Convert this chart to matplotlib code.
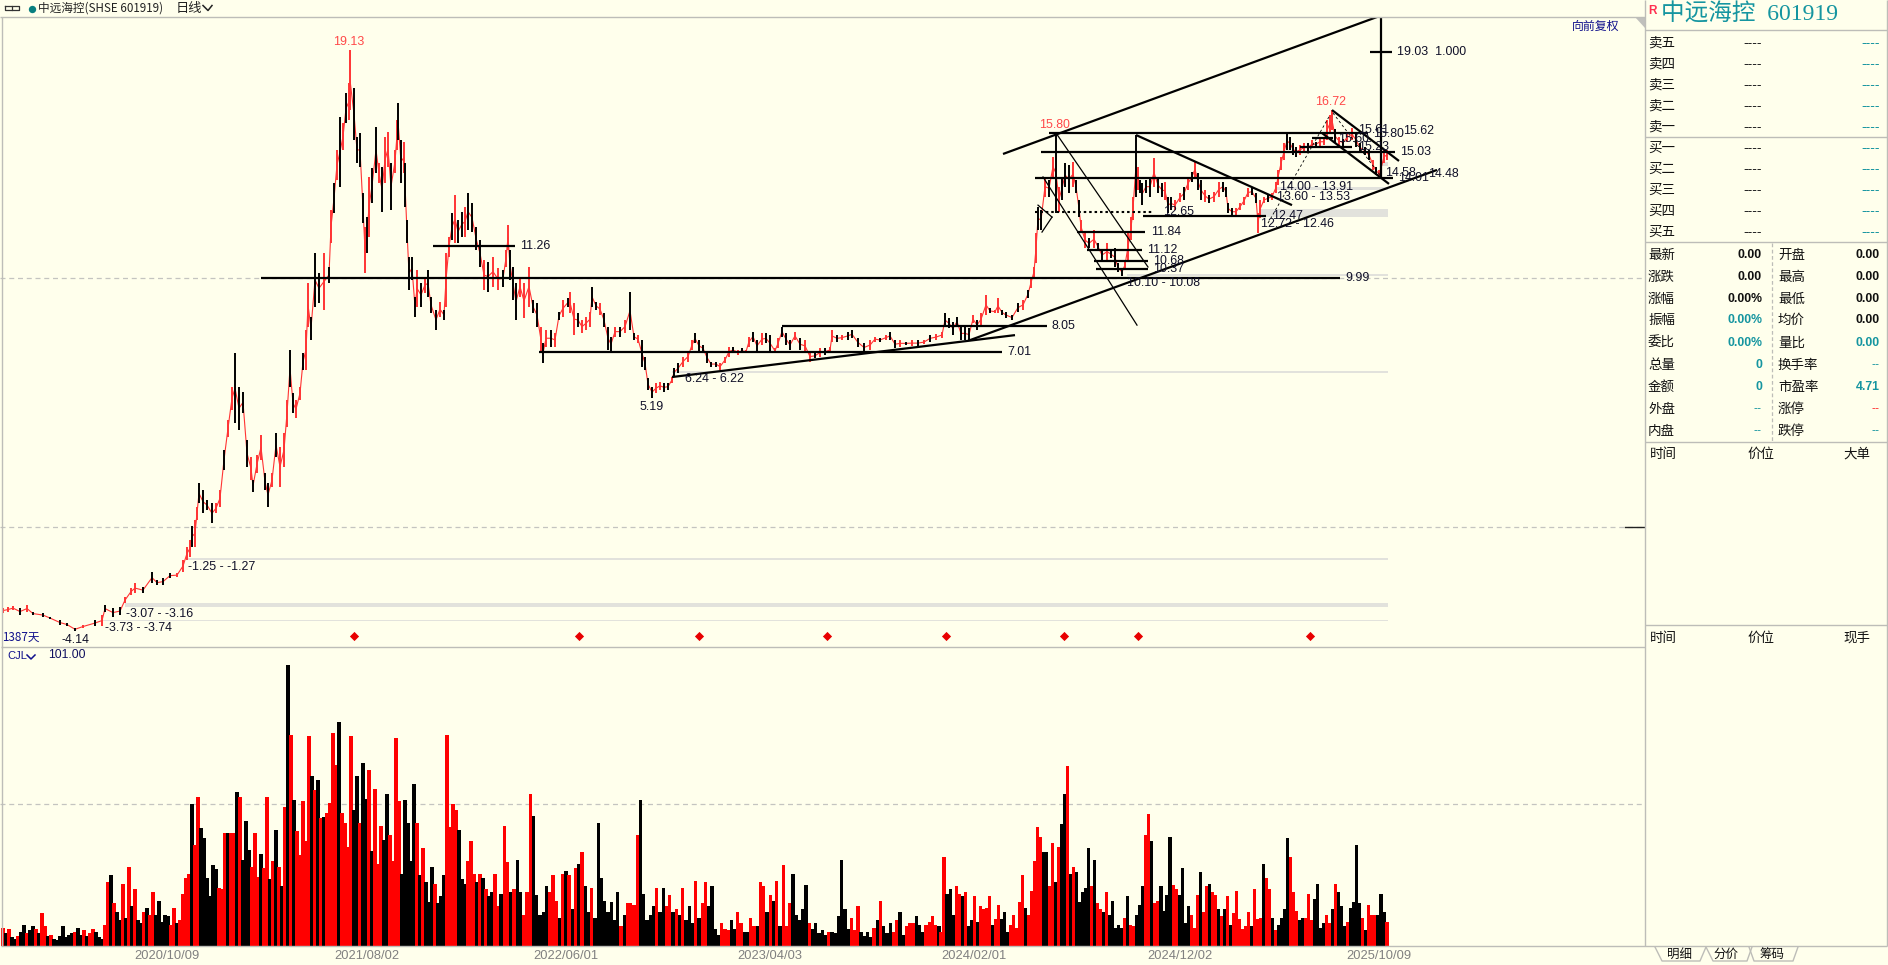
import numpy as np
import matplotlib
matplotlib.use('Agg')
import matplotlib.pyplot as plt

BG = '#FFFFEC'
GRID = '#C4C4C0'
RED = '#FF3434'
TEAL = '#1595A0'
NAVY = '#10108C'
CJK = ['Noto Sans CJK SC', 'DejaVu Sans']
NUM = ['Liberation Sans', 'Noto Sans CJK SC']

# daily bars, sampled along the date axis
price_day = [
    3, 8, 13, 20, 27, 33, 43, 50, 60, 67,
    75, 83, 95, 102, 105, 113, 120, 125, 131, 135,
    143, 152, 157, 163, 170, 177, 183, 187, 190, 192,
    195, 197, 199, 203, 207, 212, 216, 220, 224, 228,
    232, 235, 239, 243, 247, 251, 253, 257, 261, 265,
    268, 272, 276, 280, 284, 287, 290, 293, 296, 300,
    303, 306, 308, 311, 315, 319, 324, 329, 331, 334,
    337, 340, 343, 346, 349, 350, 354, 357, 360, 363,
    365, 367, 369, 372, 376, 379, 382, 385, 388, 391,
    395, 397, 398, 401, 404, 405, 407, 409, 412, 415,
    417, 421, 425, 428, 431, 436, 440, 444, 446, 449,
    452, 455, 458, 462, 465, 468, 472, 476, 480, 484,
    488, 493, 498, 503, 506, 508, 510, 513, 516, 520,
    524, 529, 533, 537, 541, 543, 546, 551, 555, 559,
    563, 568, 570, 574, 578, 582, 586, 590, 592, 596,
    600, 604, 608, 611, 615, 620, 625, 630, 634, 638,
    642, 645, 648, 652, 656, 660, 664, 668, 672, 674,
    678, 683, 688, 692, 695, 699, 703, 707, 711, 716,
    720, 725, 729, 733, 738, 742, 746, 749, 753, 757,
    762, 766, 770, 775, 778, 782, 786, 790, 795, 800,
    805, 810, 815, 820, 825, 830, 832, 837, 842, 848,
    852, 858, 864, 870, 875, 880, 886, 890, 895, 900,
    906, 912, 918, 924, 930, 936, 942, 945, 949, 953,
    957, 961, 965, 969, 973, 977, 981, 986, 990, 995,
    998, 1002, 1006, 1012, 1018, 1023, 1028, 1031, 1034, 1036,
    1038, 1041, 1045, 1049, 1053, 1056, 1059, 1062, 1065, 1069,
    1073, 1076, 1079, 1081, 1085, 1089, 1094, 1098, 1102, 1107,
    1111, 1115, 1118, 1122, 1125, 1128, 1131, 1133, 1136, 1138,
    1140, 1142, 1146, 1150, 1154, 1158, 1162, 1165, 1168, 1171,
    1175, 1180, 1184, 1188, 1192, 1195, 1198, 1201, 1205, 1209,
    1214, 1219, 1223, 1226, 1228, 1232, 1236, 1240, 1244, 1248,
    1252, 1256, 1258, 1260, 1264, 1268, 1272, 1276, 1278, 1281,
    1284, 1287, 1290, 1293, 1296, 1300, 1304, 1308, 1312, 1316,
    1320, 1324, 1327, 1330, 1332, 1335, 1339, 1343, 1347, 1352,
    1356, 1360, 1365, 1369, 1373, 1376, 1379, 1381, 1384, 1387,
]
price_high = [
    -3.24, -3.20, -3.16, -3.24, -3.12, -3.40, -3.44, -3.60, -3.72, -3.84,
    -4.04, -3.92, -3.72, -3.52, -3.12, -3.24, -3.20, -2.80, -2.44, -2.24,
    -2.40, -1.80, -2.12, -2.04, -1.84, -1.84, -1.31, -0.79, -0.51, 0.03,
    0.29, 0.83, 1.76, 1.49, 1.09, 0.96, 0.96, 1.49, 3.10, 4.30,
    5.64, 6.97, 5.64, 5.44, 3.50, 2.83, 1.89, 2.90, 3.70, 2.16,
    1.76, 2.16, 3.77, 3.23, 3.77, 5.10, 7.10, 5.37, 5.10, 5.64,
    6.97, 7.91, 9.78, 8.44, 10.98, 10.18, 10.98, 10.45, 12.72, 13.78,
    15.12, 16.45, 16.19, 17.39, 17.79, 19.13, 17.59, 15.66, 15.79, 13.38,
    12.05, 12.45, 14.05, 14.39, 16.06, 14.59, 14.45, 15.66, 15.86, 14.59,
    15.12, 16.32, 16.99, 15.52, 15.45, 14.59, 12.32, 10.85, 10.85, 9.24,
    10.31, 9.78, 10.04, 10.31, 9.24, 8.71, 9.04, 8.71, 10.98, 11.65,
    12.58, 13.32, 12.32, 12.65, 12.85, 13.38, 12.98, 12.05, 11.51, 10.71,
    10.65, 10.85, 10.38, 10.31, 11.11, 12.12, 11.11, 10.45, 9.78, 10.04,
    9.78, 10.45, 9.11, 8.98, 8.04, 7.37, 7.91, 7.91, 7.77, 8.64,
    9.11, 9.18, 9.44, 8.98, 8.57, 8.31, 8.44, 8.64, 9.64, 9.04,
    8.98, 8.57, 8.04, 7.64, 8.04, 8.04, 8.31, 9.44, 7.77, 7.71,
    7.50, 6.84, 5.97, 5.64, 5.77, 5.84, 5.77, 5.77, 6.04, 6.37,
    6.57, 6.84, 7.04, 7.50, 7.77, 7.50, 7.31, 7.04, 6.64, 6.64,
    6.57, 6.84, 7.24, 7.24, 7.11, 7.17, 7.11, 7.64, 7.84, 7.50,
    7.77, 7.77, 7.71, 7.17, 7.57, 8.04, 7.77, 7.50, 7.84, 7.57,
    7.50, 7.04, 6.97, 7.17, 7.17, 7.24, 7.90, 7.70, 7.70, 7.84,
    7.90, 7.57, 7.37, 7.50, 7.64, 7.57, 7.70, 7.84, 7.50, 7.50,
    7.44, 7.50, 7.50, 7.50, 7.70, 7.74, 7.84, 8.57, 8.37, 8.24,
    8.44, 8.04, 8.04, 7.97, 8.51, 8.31, 8.57, 9.31, 8.77, 8.71,
    9.17, 8.71, 8.64, 8.51, 8.97, 9.11, 9.51, 10.04, 10.44, 11.78,
    12.85, 12.71, 14.05, 13.92, 14.85, 15.80, 13.65, 14.05, 14.58, 14.52,
    14.65, 13.92, 13.11, 12.31, 11.85, 11.58, 11.91, 11.38, 11.11, 11.38,
    11.11, 11.18, 10.58, 10.38, 10.71, 11.78, 12.45, 13.25, 15.72, 14.45,
    13.92, 13.78, 13.92, 14.05, 14.78, 14.05, 13.78, 13.85, 13.25, 13.25,
    13.11, 13.38, 13.65, 14.05, 14.25, 14.65, 14.18, 13.92, 13.52, 13.32,
    13.45, 13.85, 13.85, 13.65, 12.98, 12.78, 12.78, 12.98, 13.25, 13.58,
    13.58, 13.38, 12.58, 13.11, 13.25, 13.32, 13.38, 13.85, 14.32, 14.85,
    15.39, 15.85, 15.65, 15.39, 15.25, 15.32, 15.39, 15.39, 15.52, 15.45,
    15.65, 15.58, 16.32, 16.52, 16.72, 15.98, 15.65, 15.58, 15.79, 15.99,
    15.79, 15.39, 15.25, 15.12, 14.72, 14.45, 14.32, 14.72, 15.12, 15.12,
]
price_low = [
    -3.44, -3.40, -3.32, -3.52, -3.40, -3.52, -3.60, -3.68, -3.92, -3.96,
    -4.14, -4.04, -3.96, -3.96, -3.40, -3.60, -3.52, -3.04, -2.72, -2.64,
    -2.64, -2.24, -2.32, -2.32, -2.04, -2.00, -1.80, -1.31, -1.18, -0.78,
    -0.78, 0.29, 0.96, 0.56, 0.69, 0.16, 0.56, 0.83, 2.30, 3.63,
    4.70, 4.16, 3.90, 4.57, 2.43, 1.89, 1.43, 2.16, 2.70, 1.49,
    0.83, 1.62, 2.83, 1.62, 2.43, 4.03, 5.64, 4.57, 4.37, 5.10,
    6.30, 6.30, 8.04, 7.51, 8.84, 8.98, 8.71, 9.78, 11.38, 12.58,
    13.92, 13.65, 15.12, 16.19, 16.32, 16.72, 15.52, 14.59, 14.45, 12.18,
    10.18, 10.98, 11.65, 12.98, 14.19, 13.79, 12.65, 13.79, 14.45, 12.72,
    14.19, 15.12, 15.52, 13.79, 14.19, 12.85, 11.38, 9.51, 9.91, 8.44,
    8.84, 8.84, 9.38, 9.24, 8.58, 7.91, 8.44, 8.31, 8.84, 10.85,
    11.51, 11.38, 11.38, 11.65, 11.65, 11.92, 11.85, 11.11, 10.45, 9.51,
    9.44, 9.64, 9.51, 9.64, 10.45, 11.11, 9.91, 9.11, 8.31, 9.24,
    8.37, 8.84, 8.57, 8.04, 6.97, 6.57, 7.24, 7.24, 7.24, 8.31,
    8.44, 8.84, 8.57, 7.71, 8.04, 7.77, 7.91, 8.04, 8.84, 8.71,
    8.51, 8.04, 7.11, 7.04, 7.64, 7.64, 7.77, 7.91, 7.50, 7.37,
    6.44, 6.30, 5.50, 5.19, 5.37, 5.50, 5.44, 5.50, 5.77, 6.04,
    6.17, 6.44, 6.64, 7.11, 7.37, 7.04, 7.04, 6.57, 6.44, 6.44,
    6.30, 6.57, 6.84, 6.97, 6.91, 6.97, 6.97, 7.24, 7.44, 7.04,
    7.31, 7.37, 7.04, 6.97, 7.17, 7.64, 7.31, 7.11, 7.50, 7.10,
    7.04, 6.64, 6.77, 6.84, 6.90, 6.97, 7.44, 7.44, 7.50, 7.50,
    7.57, 7.24, 7.04, 7.10, 7.44, 7.44, 7.50, 7.50, 7.17, 7.24,
    7.30, 7.26, 7.26, 7.34, 7.44, 7.50, 7.57, 8.04, 7.97, 7.70,
    8.04, 7.50, 7.50, 7.47, 8.17, 7.90, 8.10, 8.51, 8.57, 8.57,
    8.57, 8.51, 8.37, 8.30, 8.64, 8.71, 9.17, 9.57, 10.04, 10.58,
    11.91, 11.91, 13.25, 13.25, 14.05, 12.58, 12.65, 13.11, 13.65, 13.38,
    13.65, 13.38, 12.45, 11.78, 11.18, 11.18, 11.18, 11.11, 10.71, 10.71,
    10.78, 10.44, 10.24, 10.08, 10.31, 10.71, 11.51, 12.31, 13.25, 13.52,
    13.38, 12.91, 13.38, 13.25, 13.65, 13.38, 13.25, 13.11, 12.58, 12.71,
    12.71, 13.05, 13.11, 13.52, 13.85, 14.05, 13.52, 13.11, 13.05, 12.98,
    13.05, 13.25, 13.45, 13.25, 12.58, 12.51, 12.51, 12.71, 12.91, 13.25,
    13.32, 12.98, 11.78, 12.38, 12.98, 13.05, 13.11, 13.38, 13.72, 14.32,
    14.72, 15.12, 15.12, 14.92, 14.85, 14.92, 15.05, 15.05, 15.18, 15.25,
    15.25, 15.32, 15.52, 15.85, 15.92, 15.38, 15.32, 15.25, 15.45, 15.52,
    15.25, 15.05, 14.92, 14.72, 14.32, 14.12, 14.05, 14.05, 14.58, 14.72,
]
price_up = (
    'rrrkrkkkkk' 'krkrkkkrrr' 'kkkkkrrrrk' 'rrkkkkrrkr' 'rkkkkrkrrk'
    'krkrrrkkrr' 'krrkkkrkrk' 'rkrkrrkkkk' 'rkrkkrkrrk' 'rrkkrkkkkk'
    'rkrkkkrkrr' 'krkkrkkkkr' 'krrkrrkkkr' 'rrkkrkrkrk' 'rkrrkrrrkk'
    'rkkkrkrkkr' 'kkkkrrkkrk' 'krrrkkkkkk' 'rrrkrkrrkk' 'rkkrrkkkrk'
    'rrkrkrrkrk' 'kkkrrkrkkr' 'krkrkrrkkk' 'kkkkrkrrkr' 'rkkkkrkrrr'
    'kkrkrkrkkk' 'rkkrrkrkkr' 'kkkkrrrrkr' 'kkkkrkkrkk' 'rrkrkrkkrk'
    'rrkkkkrrrr' 'kkrrrkrrrr' 'rkkkkrrkrk' 'rrrrrkrkrr' 'kkkkrkrrrr'
)

# volume, three runs between known dates
vol_a = [
    13, 9, 12, 6, 5, 7, 10, 15, 9, 11, 14, 12, 9, 23, 14, 7, 8, 5, 4, 7,
    14, 6, 8, 9, 10, 13, 8, 11, 7, 9, 12, 10, 6, 5, 15, 45, 50, 30, 24, 18,
    44, 20, 56, 28, 40, 18, 16, 24, 27, 22, 38, 22, 32, 17, 22, 21, 15, 27, 16, 18,
    37, 48, 51, 100, 71, 105, 83, 76, 48, 35, 57, 54, 41, 40, 80, 80, 80, 80, 109, 105,
    61, 88, 68, 56, 80, 49, 65, 55, 105, 47, 60, 82, 56, 42, 98, 198, 149, 103, 81, 64,
    102, 74, 148, 120, 110, 117, 90, 91, 94, 101, 150, 128, 158, 94, 87, 70, 148, 96, 120, 87,
    129, 104, 124, 67, 111, 58, 85, 75, 107, 78, 60, 147, 102, 51, 103, 87, 60, 114, 87, 50,
    69, 45, 31, 56, 44, 30, 35, 50, 149, 84, 100, 96, 82, 47, 44, 60, 74, 51, 45, 51,
    48, 40, 35, 38, 51, 28,
]
vol_a_up = (
    'rkrkkrkkrk' 'krkrrkrkkk' 'kkkkrkkrkr' 'rkkkrrkrkk' 'rkrkrkkrkr' 'rkkkkkrrkr'
    'rrrkrrkkkk' 'kkrrrkrrkr' 'kkkrrrkrrk' 'rkrkrkrkrr' 'rrrkrkrkrr' 'rrkrrrrkkr'
    'kkrkrrrkkr' 'rrrkkkkkrk' 'rkkkrkkkrr' 'rrkkkrrrkr' 'krkkrr'
)
vol_b = [
    37, 85, 59, 38, 40, 61, 38, 22, 38, 107, 92, 36, 22, 24, 42, 38, 50, 32, 20, 51,
    53, 50, 26, 55, 58, 66, 42, 24, 41, 20, 87, 48, 32, 24, 31, 18, 38, 14, 22, 30,
    30, 29, 78, 103, 37, 18, 22, 28, 41, 24, 41, 28, 36, 24, 26, 22, 41, 18, 28, 16,
    46, 20, 30, 45, 28, 42, 12, 8, 16, 12, 11, 18, 12, 24, 16, 10, 10, 20, 14, 14,
    45, 42, 24, 36, 32, 46, 14, 57, 14, 30, 51, 22, 18, 26, 43, 16, 12, 16, 9, 11,
    8, 10, 10, 9, 21, 61, 26, 12, 20, 11, 28, 10, 7, 10, 6, 13, 18, 32, 14, 9,
    16, 10, 18, 24, 8, 14, 16, 16, 21, 15, 10, 15, 17, 21, 15, 14,
]
vol_b_up = (
    'krrkrkkrrr' 'kkkkkrrrkr' 'krkrkrkkrk' 'kkkkkkkrkr' 'rrrkkkkkrk' 'krrkrkrkkk'
    'rkrrkkkkrr' 'rkkrrkkrrk' 'rrkrkrkrrr' 'kkkkkrkkkk' 'krkkkkkkrr' 'rkkkkrkrkk'
    'krrkkrrrkk' 'krrrrk'
)
vol_c = [
    10, 63, 37, 40, 22, 42, 37, 35, 38, 14, 18, 35, 17, 28, 26, 27, 35, 15, 19, 29,
    19, 24, 10, 15, 22, 13, 31, 50, 27, 22, 39, 60, 84, 77, 66, 66, 42, 73, 45, 70,
    86, 107, 127, 51, 56, 52, 31, 38, 41, 69, 42, 61, 30, 26, 24, 38, 22, 32, 13, 15,
    13, 20, 35, 15, 14, 22, 29, 42, 78, 93, 74, 30, 32, 42, 25, 36, 77, 43, 40, 36,
    55, 16, 28, 22, 13, 36, 52, 24, 42, 44, 38, 36, 26, 21, 26, 35, 15, 23, 39, 19,
    12, 14, 24, 14, 40, 19, 20, 58, 48, 40, 20, 11, 15, 20, 26, 76, 63, 38, 25, 18,
    20, 20, 37, 18, 33, 44, 13, 16, 22, 16, 26, 44, 38, 28, 14, 17, 27, 31, 71, 30,
    20, 11, 29, 22, 22, 22, 37, 24, 17,
]
vol_c_up = (
    'rrkkkrrkrk' 'krkrrrrkrr' 'kkkrrrrrkr' 'rrrrkkrrkr' 'kkrkrkkkkk' 'rkrrkrkkkk'
    'krkrrkkkrr' 'krrkkkkrrk' 'kkkrrrkrrk' 'rrkrkrkrrr' 'rrrkrrrkrr' 'krkkkkrrrk'
    'krrrkkkkrrkr' 'kkkrkk' 'kkrkr'
)

date_days = [167, 367, 566, 770, 974, 1180, 1379]
date_labels = ['2020/10/09', '2021/08/02', '2022/06/01', '2023/04/03',
               '2024/02/01', '2024/12/02', '2025/10/09']
signal_days = [354, 579, 699, 827, 946, 1064, 1138, 1310]

# horizontal levels
level_price = [9.99, 11.26, 7.01, 8.05, 15.80, 15.03, 14.00, 12.47, 11.84, 11.12, 10.68, 10.37, 15.60, 15.23]
level_start = [261, 433, 539, 782, 1049, 1041, 1035, 1143, 1077, 1087, 1094, 1096, 1312, 1300]
level_end = [1340, 515, 1002, 1047, 1368, 1395, 1393, 1266, 1145, 1142, 1148, 1148, 1333, 1352]

# trend lines: start day, start price, end day, end price
trend_x0 = [1003, 970, 672, 1136, 1332, 1322, 1381, 1370]
trend_p0 = [14.96, 7.50, 6.02, 15.72, 16.72, 15.80, 20.45, 19.03]
trend_x1 = [1377, 1437, 1015, 1292, 1399, 1389, 1381, 1392]
trend_p1 = [20.45, 14.32, 7.70, 12.91, 14.68, 13.76, 14.00, 19.03]
thin_x0 = [1056, 1043, 1038, 1052]
thin_p0 = [15.80, 14.04, 12.91, 12.43]
thin_x1 = [1148, 1137, 1052, 1042]
thin_p1 = [10.43, 8.10, 12.43, 11.83]

# grey price zones
zone_top = [12.72, 13.60, 14.60, 10.10, 6.24, -1.25, -3.07, -3.73]
zone_bottom = [12.46, 13.53, 14.52, 10.08, 6.22, -1.27, -3.16, -3.74]
zone_start = [1259, 1277, 1380, 1127, 672, 187, 125, 103]

note_day = [1007, 1052, 520, 1345, 1400, 1397, 1151, 1147, 1153, 1153, 1163, 1272, 1261, 1280, 1277,
            1127, 685, 640, 188, 126, 105, 61, 1403, 1358, 1373, 1338, 1358, 1385, 1398, 1428]
note_price = [7.01, 8.05, 11.26, 9.99, 15.03, 19.03, 11.84, 11.12, 10.68, 10.37, 12.63, 12.47, 12.15, 13.63, 13.23,
              9.79, 5.94, 4.82, -1.60, -3.48, -4.04, -4.52, 15.88, 15.92, 15.76, 15.56, 15.24, 14.20, 14.00, 14.16]
note_text = ['7.01', '8.05', '11.26', '9.99', '15.03', '19.03  1.000', '11.84', '11.12', '10.68', '10.37', '12.65',
             '12.47', '12.72 - 12.46', '14.00 - 13.91', '13.60 - 13.53', '10.10 - 10.08', '6.24 - 6.22', '5.19',
             '-1.25 - -1.27', '-3.07 - -3.16', '-3.73 - -3.74', '-4.14', '15.62', '15.61', '15.80', '15.60', '15.23',
             '14.58', '14.01', '14.48']
peak_day = [349, 1055, 1331]
peak_price = [19.45, 16.12, 17.04]
peak_text = ['19.13', '15.80', '16.72']

# quote panel
ask_rows = ['卖五', '卖四', '卖三', '卖二', '卖一']
bid_rows = ['买一', '买二', '买三', '买四', '买五']
left_rows = ['最新', '涨跌', '涨幅', '振幅', '委比', '总量', '金额', '外盘', '内盘']
left_vals = ['0.00', '0.00', '0.00%', '0.00%', '0.00%', '0', '0', '--', '--']
left_cols = ['k', 'k', 'k', 't', 't', 't', 't', 't', 't']
right_rows = ['开盘', '最高', '最低', '均价', '量比', '换手率', '市盈率', '涨停', '跌停']
right_vals = ['0.00', '0.00', '0.00', '0.00', '0.00', '--', '4.71', '--', '--']
right_cols = ['k', 'k', 'k', 'k', 't', 't', 't', 'r', 't']
stat_y = [255, 277, 299, 320, 343, 365, 387, 409, 431]
quote_y = [43, 64, 85, 106, 127, 148, 169, 190, 211, 232]


def pane(x0, y0, x1, y1):
    return [x0 / 1888, 1 - y1 / 965, (x1 - x0) / 1888, (y1 - y0) / 965]


assert len(price_day) == len(price_high) == len(price_low) == len(price_up)

fig = plt.figure(figsize=(18.88, 9.65), dpi=100, facecolor=BG)

# price pane
ax = fig.add_axes(pane(0, 17, 1645, 647))
ax.set_xlim(0, 1645)
ax.set_ylim(-4.80, 20.45)
ax.set_facecolor(BG)
ax.axis('off')
ax.axhline(9.99, color=GRID, lw=0.9, ls=(0, (4, 3)), zorder=1)
ax.axhline(0.0, color=GRID, lw=0.9, ls=(0, (4, 3)), zorder=1)
ax.plot([1625, 1645], [0.0, 0.0], color='#222222', lw=1.0, zorder=2)
for top, bot, start in zip(zone_top, zone_bottom, zone_start):
    ax.fill_between([start, 1388], [bot - 0.03] * 2, [top + 0.03] * 2, color='#E2E2DC', lw=0, zorder=1)

days = np.array(price_day)
mid = (np.array(price_high) + np.array(price_low)) / 2
ax.plot(days, mid, color=RED, lw=0.8, zorder=2)
colors = [RED if c == 'r' else 'black' for c in price_up]
ax.vlines(days, price_low, price_high, colors=colors, lw=1.4, zorder=3)

for p, a, b in zip(level_price, level_start, level_end):
    ax.plot([a, b], [p, p], color='black', lw=1.6, solid_capstyle='butt', zorder=4)
ax.plot([1035, 1153], [12.63, 12.63], color='black', lw=1.5, ls=(0, (1.2, 1.4)), zorder=4)
for a, b, c, d in zip(trend_x0, trend_p0, trend_x1, trend_p1):
    ax.plot([a, c], [b, d], color='black', lw=1.6, solid_capstyle='butt', zorder=4)
for a, b, c, d in zip(thin_x0, thin_p0, thin_x1, thin_p1):
    ax.plot([a, c], [b, d], color='black', lw=0.9, zorder=4)
ax.plot([1268, 1330], [12.19, 16.52], color='black', lw=0.6, ls=(0, (3, 3)), zorder=4)
ax.plot([1333, 1380], [16.60, 14.12], color='black', lw=0.6, ls=(0, (3, 3)), zorder=4)

ax.scatter(signal_days, [-4.34] * len(signal_days), marker='D', s=22, color='#E80000', linewidths=0, zorder=5)
for x, p, t in zip(note_day, note_price, note_text):
    ax.text(x, p, t, fontsize=8.9, family=NUM, color='#101028', va='center', ha='left', zorder=6)
for x, p, t in zip(peak_day, peak_price, peak_text):
    ax.text(x, p, t, fontsize=8.9, family=NUM, color='#FF4848', va='center', ha='center', zorder=6)

# volume pane
av = fig.add_axes(pane(0, 648, 1645, 946))
av.set_xlim(0, 1645)
av.set_ylim(0, 210.3)
av.set_facecolor(BG)
for s in av.spines.values():
    s.set_visible(False)
av.set_yticks([])
av.axhline(100, color=GRID, lw=0.9, ls=(0, (4, 3)), zorder=1)
for vals, ups, x0, x1 in [(vol_a, vol_a_up, 3, 498), (vol_b, vol_b_up, 501, 939), (vol_c, vol_c_up, 941, 1387)]:
    xs = np.linspace(x0, x1, len(vals))
    cols = ['#FF0000' if ups[i % len(ups)] == 'r' else 'black' for i in range(len(vals))]
    av.bar(xs, vals, width=(x1 - x0) / (len(vals) - 1) * 1.02, color=cols, linewidth=0, zorder=2)
av.set_xticks(date_days)
av.set_xticklabels(date_labels, fontsize=9.3, color='#808080', family=NUM)
av.tick_params(axis='x', length=0, pad=3)

# chrome: frame, header and quote panel, drawn in screen pixels
ui = fig.add_axes([0, 0, 1, 1], zorder=10)
ui.set_xlim(0, 1888)
ui.set_ylim(965, 0)
ui.axis('off')
ui.patch.set_alpha(0)

frame = [((0, 1645), (17, 17)), ((1, 1645), (647, 647)), ((1, 1887), (946, 946)), ((1.5, 1.5), (17, 946)),
         ((1645, 1645), (0, 946)), ((1886.5, 1886.5), (0, 946)), ((1645, 1887), (30, 30)),
         ((1645, 1887), (137, 137)), ((1645, 1887), (242, 242)), ((1645, 1887), (442, 442)),
         ((1645, 1887), (625, 625))]
for xs, ys in frame:
    ui.plot(xs, ys, color='#BDBDB8', lw=1.0, solid_capstyle='butt')
ui.fill([1635, 1645, 1645], [17, 17, 28], color='#C0C0BC', lw=0)
ui.plot([1772, 1772], [243, 441], color='#BDBDB8', lw=0.9, ls=(0, (3, 2)))

# header
ui.plot([5, 12, 12, 5, 5], [6, 6, 10, 10, 6], color='#333333', lw=0.9)
ui.plot([12, 19, 19, 12], [6, 6, 10, 10], color='#333333', lw=0.9)
ui.scatter([31.5], [8.5], s=28, color='#087F80', linewidths=0)
ui.text(38, 8.5, '中远海控(SHSE 601919)', fontsize=8.4, family=CJK, color='#222222', va='center')
ui.text(176, 8.5, '日线', fontsize=9.5, family=CJK, color='#222222', va='center')
ui.plot([203, 208, 212], [5.5, 10.5, 5.5], color='#222222', lw=1.1)
ui.text(1596, 26, '向前复权', fontsize=8.6, family=CJK, color=NAVY, va='center', ha='center')
ui.text(2, 637, '1387天', fontsize=8.4, family=CJK, color=NAVY, va='center')
ui.text(7, 656, 'CJL', fontsize=8.0, family=NUM, color=NAVY, va='center')
ui.plot([27, 31, 35], [655, 659, 655], color=NAVY, lw=1.1)
ui.text(48, 655.5, '101.00', fontsize=8.8, family=NUM, color='#101060', va='center')

# quote panel
ui.text(1648, 11, 'R', fontsize=8.5, color='#FF3050', weight='bold', family=NUM, va='center')
ui.text(1661, 15, '中远海控  601919', fontsize=17, family=['Liberation Serif', 'Noto Sans CJK SC'],
        color=TEAL, va='center')
for y, t in zip(quote_y, ask_rows + bid_rows):
    ui.text(1648, y, t, fontsize=9.7, family=CJK, color='#111111', va='center')
    ui.text(1762, y, '----', fontsize=10, family=NUM, color='#222222', va='center', ha='right')
    ui.text(1880, y, '----', fontsize=10, family=NUM, color=TEAL, va='center', ha='right')
val_color = {'k': '#101010', 't': TEAL, 'r': '#FF3030'}
for y, a, av_, ac, b, bv, bc in zip(stat_y, left_rows, left_vals, left_cols, right_rows, right_vals, right_cols):
    ui.text(1648, y, a, fontsize=9.7, family=CJK, color='#111111', va='center')
    ui.text(1778, y, b, fontsize=9.7, family=CJK, color='#111111', va='center')
    wa = 'normal' if av_ == '--' else 'bold'
    wb = 'normal' if bv == '--' else 'bold'
    ui.text(1762, y, av_, fontsize=8.8, family=NUM, color=val_color[ac], weight=wa, va='center', ha='right')
    ui.text(1880, y, bv, fontsize=8.8, family=NUM, color=val_color[bc], weight=wb, va='center', ha='right')
for y, last in [(454, '大单'), (638, '现手')]:
    ui.text(1650, y, '时间', fontsize=9.7, family=CJK, color='#111111', va='center')
    ui.text(1748, y, '价位', fontsize=9.7, family=CJK, color='#111111', va='center')
    ui.text(1843, y, last, fontsize=9.7, family=CJK, color='#111111', va='center')

# tabs
for xs in [(1655, 1662, 1700, 1706), (1706, 1713, 1747, 1752), (1749, 1754, 1793, 1798)]:
    ui.plot(xs, [947, 961, 961, 947], color='#BDBDB8', lw=1.0)
for x, t in zip([1680, 1726, 1772], ['明细', '分价', '筹码']):
    ui.text(x, 954, t, fontsize=9, family=CJK, color='#111111', va='center', ha='center')

fig.savefig('out.png', dpi=100, facecolor=BG)
